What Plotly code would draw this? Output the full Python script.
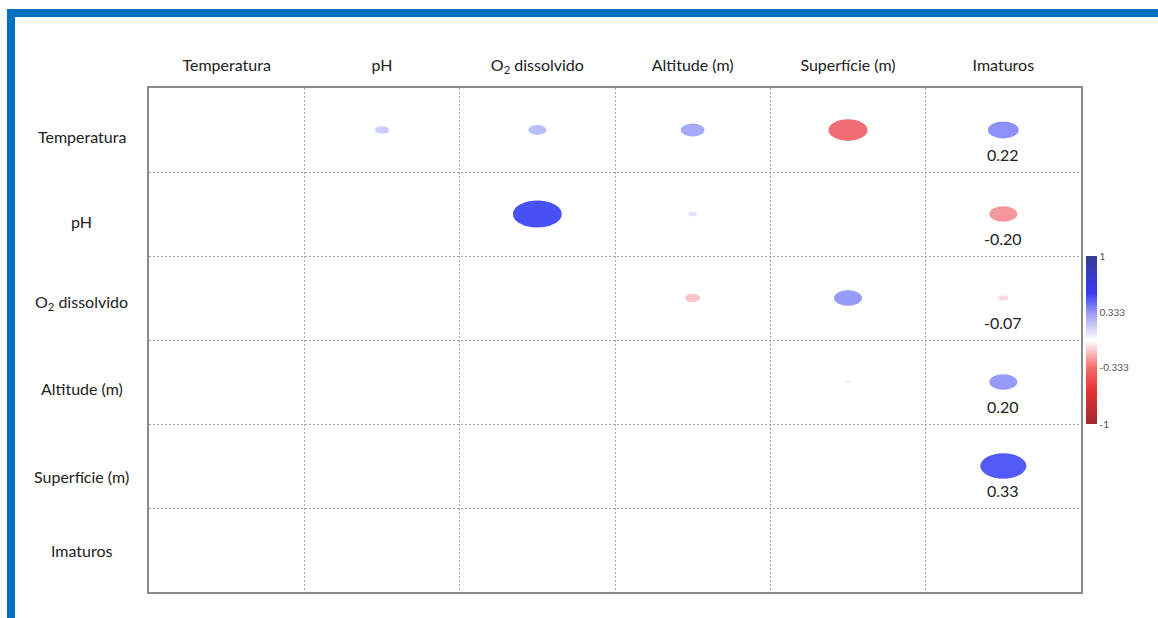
import plotly.graph_objects as go
from plotly.colors import sample_colorscale

variables = ["Temperatura", "pH", "O<sub>2</sub> dissolvido", "Altitude (m)", "Superfície (m)", "Imaturos"]

# upper-triangle correlations (row variable vs. columns to its right)
r_temperatura = [0.10, 0.13, 0.17, -0.28, 0.22]
r_ph = [0.35, 0.06, 0.02, -0.20]
r_o2 = [-0.11, 0.20, -0.07]
r_altitude = [0.04, 0.20]
r_superficie = [0.33]
r_imaturos = []

rows = [r_temperatura, r_ph, r_o2, r_altitude, r_superficie, r_imaturos]
labelled_col = 5  # values printed under the ellipses in the "Imaturos" column

n = len(variables)
FONT = "Lato, 'Open Sans', sans-serif"

cell_scale = [[0, "#ee4850"], [0.5, "#ffffff"], [1, "#4850f6"]]
cell_lim = 0.35
bar_scale = [[0, "#9e2a30"], [0.2, "#e83434"], [0.333, "#f46c6c"], [0.5, "#ffffff"],
             [0.667, "#9696f2"], [0.78, "#3a3af0"], [1, "#363c92"]]

fig = go.Figure()

xs, ys, vs = [], [], []
shapes = []
annotations = []
for i, row in enumerate(rows):
    for k, v in enumerate(row):
        j = i + 1 + k
        xs.append(j); ys.append(i); vs.append(v)
        a = 0.45 * abs(v)
        b = 0.458 * abs(v)
        frac = (max(-cell_lim, min(cell_lim, v)) + cell_lim) / (2 * cell_lim)
        col = sample_colorscale(cell_scale, [frac])[0]
        shapes.append(dict(type="circle", xref="x", yref="y",
                           x0=j - a, x1=j + a, y0=i - b, y1=i + b,
                           fillcolor=col, line=dict(width=0), layer="above"))
        if j == labelled_col:
            annotations.append(dict(x=j, y=i + 0.29, xref="x", yref="y",
                                    text=f"{v:.2f}", showarrow=False,
                                    font=dict(family=FONT, size=16, color="#222222")))

# colour bar carrier (invisible markers)
fig.add_trace(go.Scatter(
    x=xs, y=ys, mode="markers", hoverinfo="skip", showlegend=False,
    marker=dict(color=vs, cmin=-1, cmax=1, colorscale=bar_scale, opacity=0, size=1,
                colorbar=dict(x=1.0054, xanchor="left", xpad=0, y=0.5, yanchor="middle",
                              ypad=0, len=0.3333, thickness=11, outlinewidth=0,
                              tickvals=[1, 0.333, -0.333, -1],
                              ticktext=["1", "0.333", "-0.333", "-1"],
                              ticks="", tickfont=dict(family=FONT, size=10, color="#555555")))))

row_yshift = [-6, -7, -4, -6, -10, 0]
for i, name in enumerate(variables):
    annotations.append(dict(x=-0.0719, y=i, xref="paper", yref="y", text=name,
                            showarrow=False, xanchor="center", yshift=row_yshift[i],
                            font=dict(family=FONT, size=16, color="#222222")))

# blue frame of the figure
frame = "#0070c0"
shapes.append(dict(type="rect", xref="paper", yref="paper", x0=-0.1524, x1=-0.1438,
                   y0=-0.06, y1=1.1567, fillcolor=frame, line=dict(width=0), layer="above"))
shapes.append(dict(type="rect", xref="paper", yref="paper", x0=-0.1524, x1=1.09,
                   y0=1.1409, y1=1.1567, fillcolor=frame, line=dict(width=0), layer="above"))

boundaries = [k + 0.5 for k in range(n - 1)]
axis_common = dict(showgrid=False, zeroline=False, showline=True, mirror=True,
                   linecolor="#8a8a8a", linewidth=2, ticks="",
                   minor=dict(tickvals=boundaries, showgrid=True, griddash="2px,2px",
                              gridcolor="#a8a8a8", gridwidth=1, ticks=""))

fig.update_layout(
    width=1158, height=618,
    margin=dict(l=149, r=77, t=88, b=26),
    paper_bgcolor="white", plot_bgcolor="white",
    xaxis=dict(range=[-0.5, n - 0.5], tickmode="array", tickvals=list(range(n)),
               ticktext=variables, side="top", ticklabelstandoff=9,
               tickfont=dict(family=FONT, size=16, color="#222222"), **axis_common),
    yaxis=dict(range=[n - 0.5, -0.5], showticklabels=False, **axis_common),
    shapes=shapes, annotations=annotations,
)

fig.write_html("out.html")
